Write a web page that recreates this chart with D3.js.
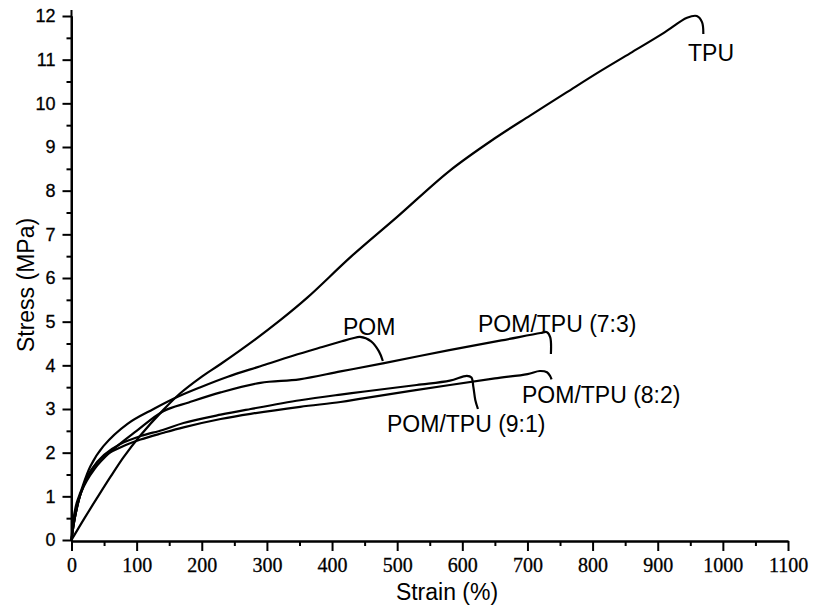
<!DOCTYPE html>
<html lang="en">
<head>
<meta charset="UTF-8">
<title>Stress-strain curves</title>
<script src="https://cdn.jsdelivr.net/npm/d3@7"></script>
<style>
    body { margin: 0; background: #fff; }
    .curve { fill: none; stroke: #000; stroke-width: 2.2px; stroke-linejoin: round; }
    .axis path, .axis line { stroke: #000; stroke-width: 2px; }
    .yaxis text { font: 18px "Liberation Sans", Arial, sans-serif; fill: #000; stroke: #000; stroke-width: 0.3px; }
    .xaxis text { font: 20px "Liberation Serif", "Times New Roman", serif; fill: #000; stroke: #000; stroke-width: 0.3px; }
    .label { font: 23px "Liberation Sans", Arial, sans-serif; fill: #000; }
</style>
</head>
<body>
<svg id="chart" width="818" height="615"></svg>
<script>
// strain (%) / stress (MPa)
const tpuStrain = [0, 20, 40, 60, 80, 106, 141, 167, 198, 229, 279, 321, 362, 430, 500, 580, 650, 704, 760, 810, 858, 910, 945, 960, 968, 970];
const tpuStress = [0, 0.50, 0.98, 1.45, 1.90, 2.40, 2.98, 3.36, 3.72, 4.03, 4.56, 5.04, 5.55, 6.50, 7.40, 8.45, 9.20, 9.72, 10.25, 10.72, 11.15, 11.62, 11.96, 12.0, 11.86, 11.59];

const pomStrain = [0, 3, 8, 14, 29, 49, 86, 126, 163, 198, 240, 290, 340, 385, 415, 432, 443, 460, 472, 478];
const pomStress = [0, 0.48, 0.85, 1.10, 1.69, 2.15, 2.66, 3.00, 3.28, 3.50, 3.74, 3.98, 4.22, 4.42, 4.55, 4.62, 4.65, 4.55, 4.32, 4.10];

const b73Strain = [0, 5, 15, 35, 60, 100, 141, 180, 229, 290, 350, 413, 480, 580, 660, 720, 730, 735, 736];
const b73Stress = [0, 0.50, 1.10, 1.62, 2.02, 2.50, 2.95, 3.15, 3.38, 3.60, 3.68, 3.86, 4.05, 4.35, 4.57, 4.74, 4.76, 4.64, 4.26];

const b82Strain = [0, 5, 15, 30, 50, 75, 106, 140, 172, 229, 275, 351, 413, 450, 581, 650, 700, 719, 730, 735, 737];
const b82Stress = [0, 0.50, 1.10, 1.58, 1.92, 2.12, 2.30, 2.45, 2.58, 2.77, 2.89, 3.05, 3.16, 3.25, 3.55, 3.70, 3.80, 3.87, 3.84, 3.75, 3.68];

const b91Strain = [0, 5, 15, 30, 50, 75, 106, 140, 172, 229, 275, 351, 413, 450, 530, 581, 607, 614, 617, 620, 624];
const b91Stress = [0, 0.50, 1.10, 1.60, 1.95, 2.20, 2.38, 2.52, 2.68, 2.87, 3.00, 3.20, 3.33, 3.40, 3.55, 3.65, 3.76, 3.72, 3.50, 3.20, 3.00];

const xTicks = d3.range(0, 1101, 100);
const yTicks = d3.range(0, 13, 1);

const svg = d3.select("#chart");
const x = d3.scaleLinear().domain([0, 1100]).range([71.5, 788]);
const y = d3.scaleLinear().domain([0, 12]).range([540, 16]);

// y axis: minor ticks, then major ticks with labels
svg.append("g").attr("class", "axis")
    .attr("transform", "translate(71.5,0)")
    .call(d3.axisLeft(y).tickValues(d3.range(0.5, 12, 1)).tickSize(5).tickSizeOuter(0).tickFormat(""));
svg.append("g").attr("class", "axis yaxis")
    .attr("transform", "translate(71.5,0)")
    .call(d3.axisLeft(y).tickValues(yTicks).tickSize(9).tickSizeOuter(0).tickPadding(7));
svg.append("line")
    .attr("x1", 71.5).attr("x2", 71.5).attr("y1", 10).attr("y2", 541)
    .attr("stroke", "#000").attr("stroke-width", 2);

// x axis
svg.append("g").attr("class", "axis")
    .attr("transform", "translate(0,541)")
    .call(d3.axisBottom(x).tickValues(d3.range(50, 1100, 100)).tickSize(5).tickSizeOuter(0).tickFormat(""));
svg.append("g").attr("class", "axis xaxis")
    .attr("transform", "translate(0,541)")
    .call(d3.axisBottom(x).tickValues(xTicks).tickSize(10).tickSizeOuter(0).tickPadding(7).tickFormat(d3.format("d")));

// axis titles
svg.append("text").attr("class", "label")
    .attr("x", 447).attr("y", 600).attr("text-anchor", "middle")
    .text("Strain (%)");
svg.append("text").attr("class", "label")
    .attr("transform", "translate(34,285) rotate(-90)")
    .attr("text-anchor", "middle")
    .text("Stress (MPa)");

// curves
const line = d3.line()
    .x(d => x(d[0]))
    .y(d => y(d[1]))
    .curve(d3.curveCatmullRom.alpha(0.5));

const series = [
    [tpuStrain, tpuStress],
    [pomStrain, pomStress],
    [b73Strain, b73Stress],
    [b82Strain, b82Stress],
    [b91Strain, b91Stress]
];

svg.selectAll(".curve")
    .data(series)
    .enter().append("path")
    .attr("class", "curve")
    .attr("d", s => line(d3.zip(s[0], s[1])));

// curve names
const names = ["TPU", "POM", "POM/TPU (7:3)", "POM/TPU (8:2)", "POM/TPU (9:1)"];
const namePos = [[688, 61], [343, 335], [478, 332], [522, 403], [387, 432]];

svg.selectAll(".name")
    .data(names)
    .enter().append("text")
    .attr("class", "label")
    .attr("x", (d, i) => namePos[i][0])
    .attr("y", (d, i) => namePos[i][1])
    .text(d => d);
</script>
</body>
</html>
